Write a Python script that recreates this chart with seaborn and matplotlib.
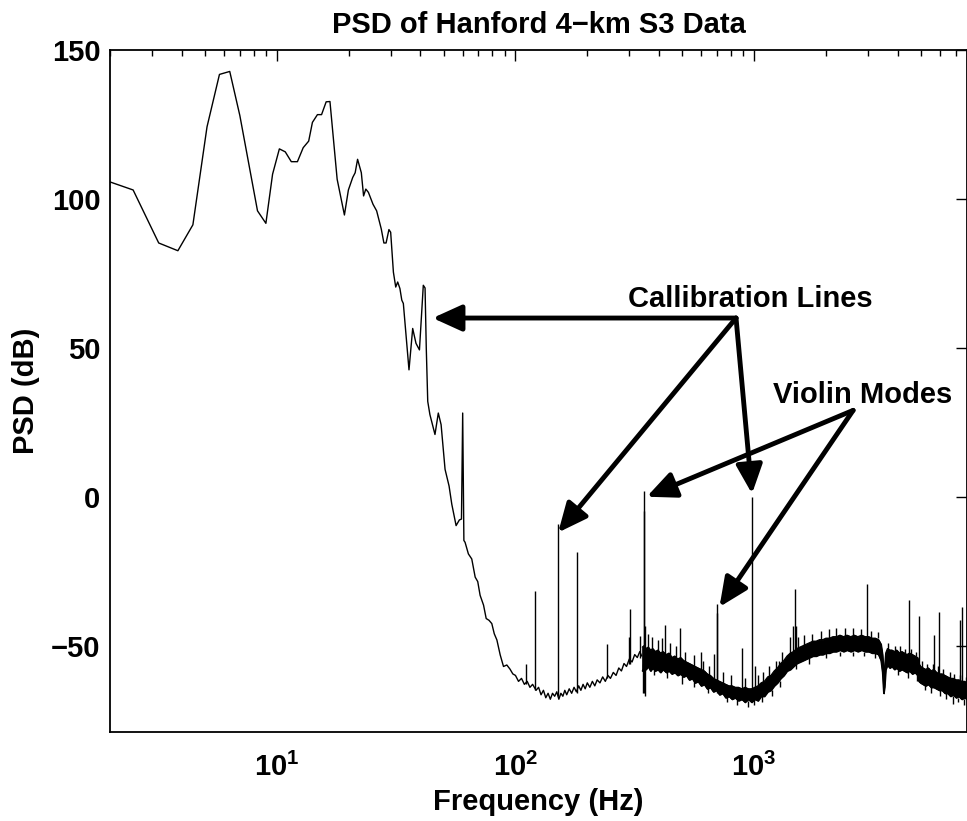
import matplotlib
matplotlib.use("Agg")
import matplotlib.pyplot as plt
import seaborn as sns
import pandas as pd
from matplotlib.ticker import LogLocator, NullFormatter, FixedLocator, FixedFormatter

# ---------------- data ----------------
lf_freq = [2.0, 2.5, 3.2, 3.85, 4.45, 5.1, 5.75, 6.35, 7.0, 8.3, 9.0, 9.6, 10.25, 10.85,
           11.5, 12.2, 12.9, 13.6, 14.1, 14.8, 15.4, 16.1, 16.7, 17.9, 19.2, 19.95, 20.8,
           21.3, 21.8, 22.6, 23.1, 23.6, 24.2, 25.3, 26.2, 27.4, 28.1, 28.7, 29.5, 30.0,
           30.8, 31.5, 32.1, 32.8, 33.4, 33.9, 35.8, 37.1, 38.3, 39.6, 41.1, 41.8, 42.3,
           42.9, 43.8, 46.0, 47.5, 48.8, 50.7, 52.7, 54.1, 56.4, 58.2, 59.4, 60.1, 60.8,
           61.5, 63.5, 65.6, 67.8, 69.5, 71.1, 73.5, 75.4, 77.5, 79.6, 81.5, 83.6, 86.3,
           89.1, 92.0, 94.9, 97.5]
lf_psd = [105.7, 103.0, 85.2, 82.6, 91.3, 124.2, 141.8, 142.8, 128.0, 96.0, 91.8, 108.3,
          116.8, 115.8, 112.5, 112.5, 117.2, 119.4, 125.7, 128.3, 128.3, 132.6, 132.7,
          106.6, 94.6, 103.0, 107.2, 108.8, 113.3, 108.8, 101.0, 103.3, 102.2, 98.2, 96.0,
          89.9, 85.2, 85.2, 89.7, 88.8, 75.4, 70.4, 72.1, 69.9, 66.0, 64.9, 42.6, 56.5,
          51.5, 49.3, 71.0, 70.1, 49.8, 32.0, 27.6, 20.9, 28.1, 24.2, 9.2, 3.6, -2.5, -9.7,
          -7.8, -7.5, 28.1, -14.7, -15.3, -19.2, -20.9, -27.0, -28.5, -33.1, -36.4, -40.9,
          -41.5, -42.6, -46.0, -48.1, -53.1, -57.0, -56.5, -57.9, -59.5]

mid_freq = [100, 103, 106, 109, 112, 115, 118, 122, 125, 128, 131, 134, 137, 140, 143, 146,
            149, 152, 155, 158, 161, 164, 168, 172, 176, 180, 184, 188, 192, 196, 200, 205,
            210, 215, 220, 226, 232, 238, 244, 250, 257, 264, 271, 278, 285, 292, 300, 308,
            316, 324, 332, 338]
mid_psd = [-60, -62, -61, -63, -62, -64, -63, -65, -64, -66.5, -65, -67.5, -66, -68, -66,
           -67, -65.5, -68, -66, -67, -65, -66.5, -64.5, -66, -64, -65.5, -63.5, -65, -63,
           -64.5, -62.5, -64, -62, -63.5, -61.5, -62.5, -60.5, -62, -60, -61, -59, -60,
           -57.5, -58.5, -56, -57, -54.5, -55.5, -53, -54, -52, -53.5]

band_freq = [340, 346, 352, 360, 368, 376, 385, 395, 405, 415, 428, 440, 452, 465, 478, 492,
             506, 520, 535, 550, 566, 582, 600, 618, 636, 655, 675, 695, 716, 738, 760, 784,
             808, 833, 860, 888, 916, 946, 976, 1006, 1038, 1070, 1104, 1140, 1176, 1214,
             1252, 1292, 1332, 1374, 1418, 1462, 1508, 1556, 1606, 1656, 1710, 1764, 1820,
             1880, 1940, 2000, 2070, 2140, 2210, 2290, 2370, 2450, 2540, 2630, 2720, 2820,
             2920, 3020, 3120, 3220, 3320, 3400, 3450, 3490, 3520, 3560, 3620, 3700, 3780,
             3870, 3960, 4060, 4160, 4260, 4370, 4480, 4600, 4720, 4840, 4900, 4980, 5100,
             5230, 5370, 5510, 5660, 5810, 5970, 6130, 6300, 6470, 6650, 6830, 7020, 7210,
             7410, 7620, 7800]
band_lo = [-58.5, -57.5, -58, -57, -58.5, -57.5, -58.5, -58, -59, -58, -59, -58.5, -59.5,
           -59, -60, -59.5, -60.5, -60, -61.5, -61, -62.5, -62, -63.5, -63, -64.5, -64, -65.5,
           -65, -66.5, -66, -67.5, -67, -68, -67.5, -68.5, -68, -69, -68, -69, -68, -68.5,
           -67, -67, -65.5, -65, -63.5, -62.5, -61, -60, -58.5, -58, -57, -56, -55.5, -55,
           -54.5, -54, -53.5, -53.5, -53, -53, -52.5, -52.5, -52, -52, -51.5, -52, -51.5,
           -52, -51.5, -52, -51.5, -52, -52, -52.5, -52.5, -53, -55, -59, -66, -64, -58,
           -56.5, -57.5, -57, -58, -57.5, -58.5, -58, -58.5, -59, -58.5, -59.5, -59, -60,
           -62, -62.5, -63, -63.5, -63, -64, -64, -64.5, -65, -65, -66, -66, -67, -66.5,
           -67.5, -67, -68, -67.5, -68]
band_hi = [-50.5, -50, -51, -50.5, -51.5, -51, -52, -51.5, -52.5, -52, -53, -52.5, -54,
           -53.5, -54.5, -54, -55, -55.5, -56, -56.5, -57, -57.5, -58, -58.5, -59.5, -60,
           -61, -61.5, -62, -62.5, -63, -63.5, -63.5, -64, -64, -64.5, -64, -64.5, -64.5,
           -64, -63.5, -62.5, -62, -60.5, -60, -58.5, -57.5, -56, -55, -53.5, -52.5, -52,
           -51, -50.5, -50, -49.5, -49, -48.5, -48.5, -48, -48, -47.5, -47.5, -47, -47,
           -46.5, -47, -46.5, -47, -46.5, -47, -46.5, -47, -47, -47.5, -47.5, -48, -49.5,
           -53, -59, -57.5, -52.5, -51, -51.5, -51.5, -52, -51.5, -52.5, -52, -52.5, -53,
           -52.5, -53, -53.5, -54, -56, -57, -57.5, -58, -57.5, -58.5, -58, -59, -59.5,
           -59.5, -60, -60.5, -61, -61, -61.5, -61.5, -62, -62, -62.5]

# narrow spectral lines: frequency, peak level, level of the floor under the line
line_freq = [110.8, 120.5, 151, 181, 241, 298, 303, 334, 344, 346.5, 350, 425, 488, 601, 676,
             697, 702, 893, 980, 1010, 1276, 1449, 1478, 1500, 2963, 4477, 4900, 5700, 5950,
             7280, 7420]
line_peak = [-56, -31.5, -9, -18.5, -49.5, -47, -37.6, -46.8, 2, -4.7, -43.3, -43, -44.2,
             -52.2, -52.8, -39, -36, -50.8, 0, -56.7, -55.2, -43.3, -30.9, -43.3, -29.2,
             -34.8, -40.2, -46.3, -38.8, -41.5, -37]
line_base = [-63, -65, -67, -66, -61, -56, -56, -54, -66, -65, -55, -55, -57, -60, -63, -64,
             -64, -66, -67, -66, -59, -55, -55, -53, -48, -53, -56, -59, -60, -63, -63]

# small noise excursions sticking out of the dense noise band
spur_freq = [360, 372, 395, 410, 445, 470, 515, 560, 610, 650, 740, 800, 920, 1040, 1090,
             1150, 1230, 1310, 1410, 1530, 1620, 1740, 1900, 2050, 2200, 2400, 2600, 2800,
             3100, 3300, 3650, 3900, 4100, 4300, 4550, 4750, 5050, 5300, 5600, 5900, 6200,
             6600, 6900, 7300, 7700,
             342, 349, 380, 430, 500, 560, 640, 700, 770, 850, 940, 1000, 1080, 1190, 1280,
             1500, 1700, 2000, 2300, 2600, 2900, 3200, 4000, 4400, 4800, 5200, 5500, 6000,
             6400, 6800, 7150, 7600]
spur_end = [-46, -47, -48, -47.5, -49, -50, -52, -53, -55, -57, -59, -60, -61, -60, -59,
            -57, -55, -52, -47, -47, -46.5, -46, -45, -44.5, -44, -44, -44, -44.5,
            -45, -45.5, -49, -50, -50, -51, -51, -52, -55, -56, -56, -57, -58,
            -59, -59.5, -60, -60.5,
            -66, -67, -60, -61, -63, -64, -66, -66, -69, -70, -70.5, -70, -69, -67, -64,
            -58, -56, -54, -53.5, -53.5, -53.5, -54, -60, -61, -62, -65, -66, -67,
            -68, -69.5, -69, -70]
spur_base = [-51, -51, -52, -52, -53, -54, -55, -57, -59, -60, -63, -64, -64.5, -64, -62.5,
             -61, -59, -56, -53, -51, -50, -49, -48, -47.5, -47, -47, -47, -47,
             -47.5, -47.5, -51, -52, -52, -52.5, -53, -53.5, -57.5, -58, -58.5, -59.5, -60,
             -61, -61.5, -62, -62.5,
             -56, -56, -57, -59, -60, -61.5, -64, -65, -67, -68, -68.5, -68, -67, -65, -62,
             -55.5, -54, -52, -52, -52, -52, -52.5, -58, -58.5, -60, -63, -64, -65,
             -66, -67, -67.5, -68]

y_ticks = [-50, 0, 50, 100, 150]
y_tick_labels = ["\u221250", "0", "50", "100", "150"]
x_ticks = [10, 100, 1000]
x_tick_labels = [r"$10^{1}$", r"$10^{2}$", r"$10^{3}$"]

title_text = "PSD of Hanford 4\u2212km S3 Data"
x_label = "Frequency (Hz)"
y_label = "PSD (dB)"
calib_label = "Callibration Lines"
violin_label = "Violin Modes"

# ---------------- style ----------------
sns.set_theme(style="white")
plt.rcParams["font.family"] = ["Liberation Sans", "DejaVu Sans"]
plt.rcParams["font.weight"] = "bold"
plt.rcParams["mathtext.fontset"] = "custom"
plt.rcParams["mathtext.rm"] = "Liberation Sans:bold"
plt.rcParams["mathtext.it"] = "Liberation Sans:bold"
plt.rcParams["mathtext.bf"] = "Liberation Sans:bold"
plt.rcParams["axes.unicode_minus"] = True
for key in ["text.color", "axes.labelcolor", "xtick.color", "ytick.color", "axes.edgecolor"]:
    plt.rcParams[key] = "black"

FS = 21
fig = plt.figure(figsize=(9.67, 8.21), dpi=100)
ax = fig.add_axes([110 / 967, (821 - 732) / 821, 857 / 967, (732 - 50) / 821])

trace = pd.DataFrame({"freq": lf_freq + mid_freq, "psd": lf_psd + mid_psd})
sns.lineplot(data=trace, x="freq", y="psd", ax=ax, color="black", lw=1.0,
             estimator=None, sort=False)

ax.fill_between(band_freq, band_lo, band_hi, color="black", lw=0.9)
sns.lineplot(x=band_freq, y=band_lo, ax=ax, color="black", lw=0.9, estimator=None, sort=False)
sns.lineplot(x=band_freq, y=band_hi, ax=ax, color="black", lw=0.9, estimator=None, sort=False)
ax.vlines(spur_freq, spur_base, spur_end, color="black", lw=1.0)
ax.vlines(line_freq, line_base, line_peak, color="black", lw=1.0)

ax.set_xscale("log")
ax.set_xlim(2, 7800)
ax.set_ylim(-79, 150)

ax.xaxis.set_major_locator(FixedLocator(x_ticks))
ax.xaxis.set_major_formatter(FixedFormatter(x_tick_labels))
ax.xaxis.set_minor_locator(LogLocator(base=10, subs=range(2, 10), numticks=20))
ax.xaxis.set_minor_formatter(NullFormatter())
ax.set_yticks(y_ticks)
ax.set_yticklabels(y_tick_labels)

ax.tick_params(which="both", direction="in", top=True, right=True, labelsize=FS)
ax.tick_params(which="major", length=8, width=1.0)
ax.tick_params(which="minor", length=4, width=1.0)
ax.tick_params(axis="y", pad=7)
ax.tick_params(axis="x", pad=15)
for lab in ax.get_xticklabels() + ax.get_yticklabels():
    lab.set_fontweight("bold")
for s in ax.spines.values():
    s.set_linewidth(1.3)
ax.grid(False)

ax.set_title(title_text, fontsize=FS, fontweight="bold", pad=12)
ax.set_xlabel(x_label, fontsize=FS, fontweight="bold", labelpad=4)
ax.set_ylabel(y_label, fontsize=FS, fontweight="bold", labelpad=8)

arrow_kw = dict(arrowstyle="-|>,head_length=0.55,head_width=0.25", lw=3.5, color="black",
                mutation_scale=32, shrinkA=0, shrinkB=0)
calib_src = (840, 60)
for tip in [(45, 60), (151, -12), (980, 1)]:
    ax.annotate("", xy=tip, xytext=calib_src, arrowprops=arrow_kw)
ax.text(960, 66.5, calib_label, ha="center", va="center", fontsize=FS, fontweight="bold")

violin_src = (2600, 29)
for tip in [(355, 0), (716, -37)]:
    ax.annotate("", xy=tip, xytext=violin_src, arrowprops=arrow_kw)
ax.text(2850, 34, violin_label, ha="center", va="center", fontsize=FS, fontweight="bold")

fig.savefig("out.png", dpi=100)
